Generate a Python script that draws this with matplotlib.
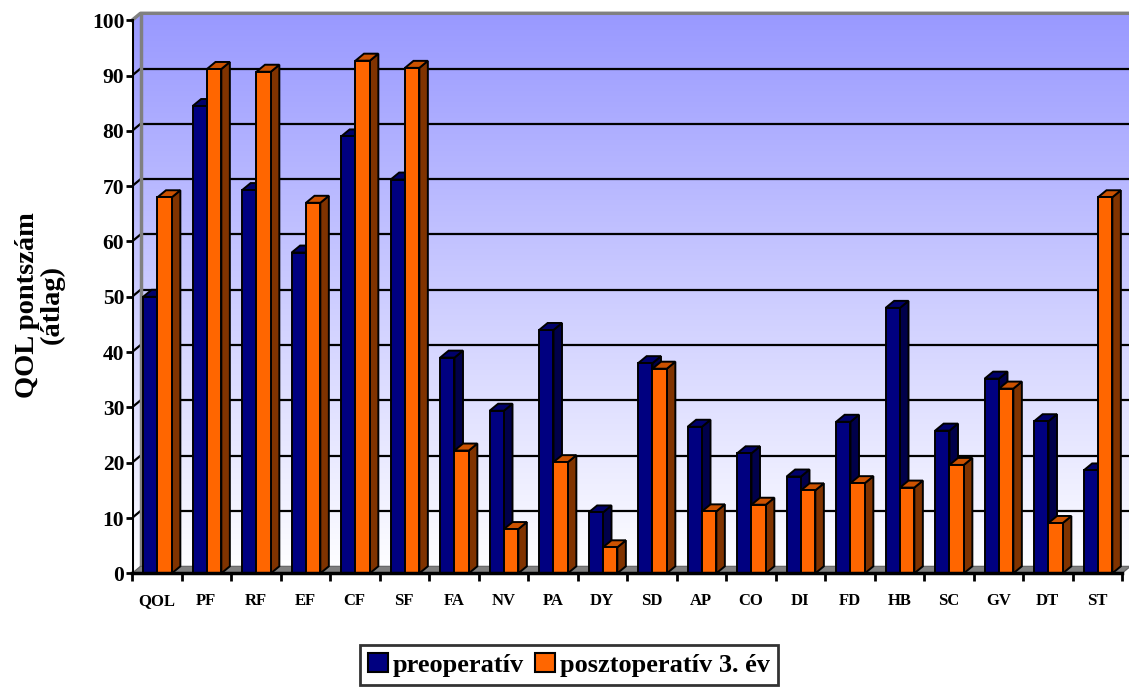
import numpy as np
import matplotlib
matplotlib.use("Agg")
import matplotlib.pyplot as plt
from matplotlib.patches import Polygon, Patch
from matplotlib.path import Path
from matplotlib.patches import PathPatch

plt.rcParams['font.family'] = ['Liberation Serif', 'DejaVu Serif']
plt.rcParams['font.weight'] = 'bold'

categories = ["QOL", "PF", "RF", "EF", "CF", "SF", "FA", "NV", "PA", "DY",
              "SD", "AP", "CO", "DI", "FD", "HB", "SC", "GV", "DT", "ST"]
preop = [50, 84.5, 69.3, 58, 79, 71.2, 39, 29.4, 44, 11,
         38, 26.5, 21.7, 17.5, 27.4, 48, 25.8, 35.2, 27.5, 18.6]
postop = [68, 91.2, 90.7, 67, 92.7, 91.4, 22.2, 8, 20.1, 4.7,
          37, 11.2, 12.4, 15, 16.3, 15.5, 19.6, 33.4, 9.1, 68]
series_names = ["preoperatív", "posztoperatív 3. év"]
yticks = list(range(0, 101, 10))

# colours: front, side, top
navy = ("#000080", "#00004a", "#00006a")
orange = ("#ff6600", "#803300", "#cc5200")

W, H = 1129, 688
fig = plt.figure(figsize=(W / 100, H / 100), dpi=100)

n = len(categories)
px_x = 49.5      # pixels per category
px_y = 5.53      # pixels per value unit
dx = 8.5 / px_x  # depth offset in category units
dy = 7.0 / px_y  # depth offset in value units
ymax = 100

left_px, bottom_px = 132, 688 - 573.3
ax = fig.add_axes([left_px / W, bottom_px / H,
                   (n + dx) * px_x / W, (ymax + dy) * px_y / H])
ax.set_xlim(0, n + dx)
ax.set_ylim(0, ymax + dy)
for s in ax.spines.values():
    s.set_visible(False)
ax.patch.set_visible(False)

# walls with vertical gradient
grad = np.linspace(1, 0, 256).reshape(-1, 1)
top_rgb = np.array([153, 153, 255]) / 255
bot_rgb = np.array([255, 255, 255]) / 255
img = grad[..., None] * top_rgb + (1 - grad[..., None]) * bot_rgb
wall_verts = [(0, 0), (dx, dy), (n + dx, dy), (n + dx, ymax + dy),
              (dx, ymax + dy), (0, ymax), (0, 0)]
wall_path = PathPatch(Path(wall_verts), facecolor='none', edgecolor='none',
                      transform=ax.transData)
im = ax.imshow(img, extent=[0, n + dx, 0, ymax + dy], aspect='auto',
               origin='upper', zorder=0, interpolation='bilinear')
im.set_clip_path(wall_path)

# gridlines on back and left walls
for v in yticks[1:-1]:
    ax.plot([dx, n + dx], [v + dy, v + dy], color='black', lw=1.6, zorder=1,
            solid_capstyle='butt')
    ax.plot([0, dx], [v, v + dy], color='black', lw=1.6, zorder=1)

# wall borders
ax.plot([0, dx, n + dx], [ymax, ymax + dy, ymax + dy], color='#808080',
        lw=2.5, zorder=1, clip_on=False)
ax.plot([dx, dx], [dy, ymax + dy], color='#808080', lw=2.5, zorder=1)

# floor
ax.add_patch(Polygon([(0, 0), (dx, dy), (n + dx, dy), (n, 0)], closed=True,
                     facecolor='#808080', edgecolor='#606060', lw=0.8,
                     zorder=2))

# 3D columns
x0 = np.arange(n)
bw = 0.29
offsets = [0.225, 0.515]
z = 3
for i in range(n):
    for vals, cols, off in ((preop, navy, offsets[0]), (postop, orange, offsets[1])):
        v = vals[i]
        xl = x0[i] + off
        xr = xl + bw
        side = Polygon([(xr, 0), (xr + dx, dy), (xr + dx, v + dy), (xr, v)],
                       closed=True, facecolor=cols[1], edgecolor='black',
                       lw=1.4, joinstyle='miter', zorder=z)
        top = Polygon([(xl, v), (xl + dx, v + dy), (xr + dx, v + dy), (xr, v)],
                      closed=True, facecolor=cols[2], edgecolor='black',
                      lw=1.4, joinstyle='miter', zorder=z)
        ax.add_patch(side)
        ax.add_patch(top)
        ax.bar(xl, v, width=bw, align='edge', color=cols[0],
               edgecolor='black', linewidth=1.4, zorder=z + 1)
        z += 2

# axis lines
ax.plot([0, 0], [0, ymax], color='black', lw=2.2, zorder=z + 1,
        solid_capstyle='projecting')
ax.plot([0, n], [0, 0], color='black', lw=2.5, zorder=z + 1,
        solid_capstyle='projecting', clip_on=False)

# ticks
ax.set_yticks(yticks)
ax.set_yticklabels([str(t) for t in yticks], fontsize=15.5, fontweight='bold')
ax.tick_params(axis='y', direction='out', length=4.5, width=2, pad=1)
ax.set_xticks(x0 + 0.5)
ax.set_xticklabels(categories, fontsize=12, fontweight='bold')
ax.tick_params(axis='x', which='major', length=0, pad=14)
ax.set_xticks(np.arange(n + 1), minor=True)
ax.tick_params(axis='x', which='minor', direction='out', length=6, width=2)

# axis title
fig.text(40 / W, 1 - 305 / H, "QOL pontszám\n(átlag)", rotation=90,
         ha='center', va='center', multialignment='center',
         fontsize=20.5, fontweight='bold', linespacing=0.95)

# legend
handles = [Patch(facecolor=navy[0], edgecolor='black', lw=1.5),
           Patch(facecolor=orange[0], edgecolor='black', lw=1.5)]
leg = fig.legend(handles, series_names, loc='upper center',
                 bbox_to_anchor=(569 / W, 1 - 645 / H), ncol=2,
                 borderaxespad=0,
                 frameon=True, fancybox=False, edgecolor='black',
                 prop={'family': 'Liberation Serif', 'weight': 'bold',
                       'size': 19},
                 handlelength=0.75, handleheight=0.75, handletextpad=0.2,
                 columnspacing=0.4, borderpad=0.3)
leg.get_frame().set_linewidth(2)

fig.savefig("out.png", dpi=100)
